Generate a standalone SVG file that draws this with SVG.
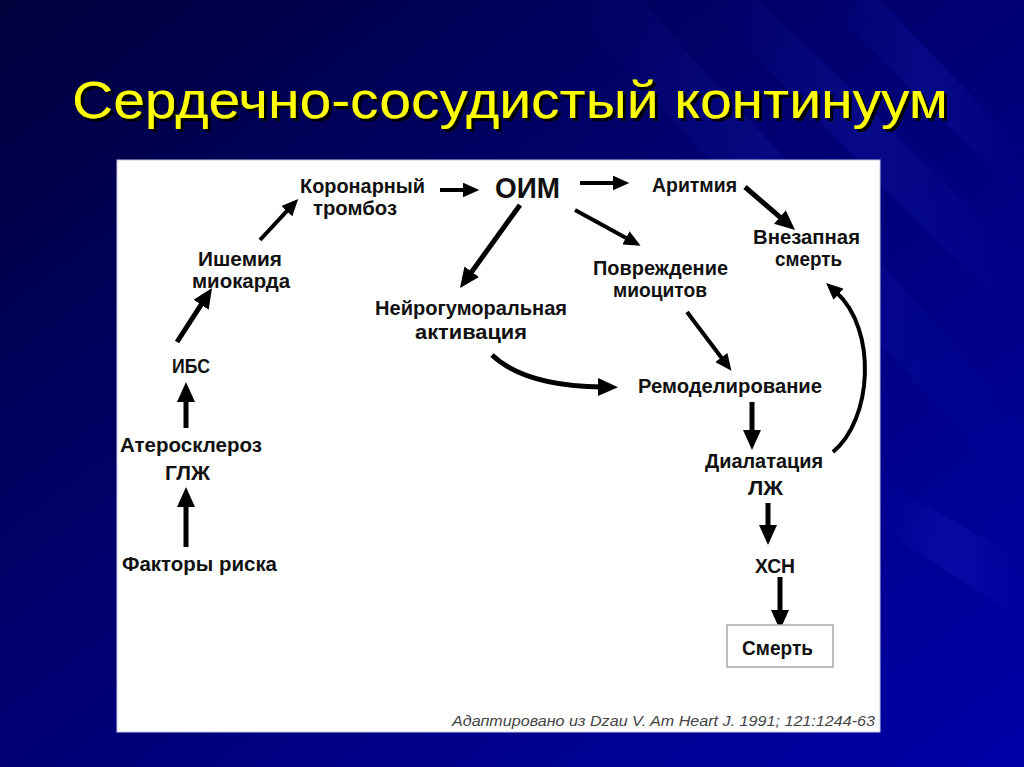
<svg xmlns="http://www.w3.org/2000/svg" width="1024" height="767" viewBox="0 0 1024 767">
<defs>
<linearGradient id="bg" x1="0" y1="0" x2="1" y2="1">
<stop offset="0" stop-color="#00003c"/>
<stop offset="0.45" stop-color="#000070"/>
<stop offset="1" stop-color="#0000a8"/>
</linearGradient>
<linearGradient id="streak" x1="0" y1="0" x2="1" y2="0">
<stop offset="0" stop-color="#3a4cff" stop-opacity="0"/>
<stop offset="0.5" stop-color="#3a4cff" stop-opacity="0.14"/>
<stop offset="1" stop-color="#3a4cff" stop-opacity="0"/>
</linearGradient>
<filter id="shadow" x="-5%" y="-20%" width="110%" height="150%">
<feDropShadow dx="3" dy="3" stdDeviation="0.6" flood-color="#000" flood-opacity="1"/>
</filter>
<marker id="ah" viewBox="0 0 20 18" refX="4" refY="9" markerWidth="20" markerHeight="18" markerUnits="userSpaceOnUse" orient="auto">
<path d="M0,0 L20,9 L0,18 z" fill="#000"/>
</marker>
<marker id="ahs" viewBox="0 0 20 18" refX="4" refY="9" markerWidth="17" markerHeight="15" markerUnits="userSpaceOnUse" orient="auto">
<path d="M0,0 L20,9 L0,18 z" fill="#000"/>
</marker>
</defs>
<style>
.t{font-family:"Liberation Sans Narrow","Liberation Sans",Arial,sans-serif;font-weight:bold;font-size:20px;fill:#111;}
.big{font-size:29px;}
.c{fill:none;stroke:#000;stroke-width:5;marker-end:url(#ah);}
.cs{fill:none;stroke:#000;stroke-width:4;marker-end:url(#ahs);}
</style>
<rect x="0" y="0" width="1024" height="767" fill="url(#bg)"/>
<g opacity="0.9">
<polygon points="560,0 640,0 1024,420 1024,500" fill="url(#streak)"/>
<polygon points="700,0 760,0 1024,260 1024,330" fill="url(#streak)"/>
<polygon points="820,0 880,0 1024,150 1024,200" fill="url(#streak)"/>
<polygon points="880,480 1024,560 1024,620 880,530" fill="url(#streak)"/>
</g>
<g id="title">
<text x="72" y="118" font-family="Liberation Sans, Arial, sans-serif" font-size="52" fill="#ffff00" filter="url(#shadow)" textLength="876" lengthAdjust="spacingAndGlyphs">Сердечно-сосудистый континуум</text>
</g>
<rect id="panel" x="117" y="160" width="763" height="572" fill="#ffffff" stroke="#c8c8e8" stroke-width="1"/>
<g id="connectors">
<line class="c" x1="186" y1="547" x2="186" y2="503"/>
<line class="c" x1="186" y1="428" x2="186" y2="398"/>
<line class="c" x1="177" y1="342" x2="203.3" y2="301.4"/>
<line class="cs" x1="260" y1="240" x2="289.1" y2="208.7"/>
<line class="cs" x1="440" y1="190" x2="466" y2="190"/>
<line class="cs" x1="580" y1="183" x2="616" y2="183"/>
<line class="c" x1="520" y1="205" x2="469.4" y2="275"/>
<line class="cs" x1="575" y1="210" x2="628.9" y2="239.4"/>
<line class="c" x1="745" y1="187" x2="782.9" y2="219.6"/>
<line class="cs" x1="687" y1="312" x2="723.4" y2="360.2"/>
<path class="c" d="M492,355 Q525,386 602,387"/>
<line class="c" x1="752" y1="402" x2="752" y2="434"/>
<line class="c" x1="768" y1="503" x2="768" y2="529"/>
<line class="c" x1="780" y1="577" x2="780" y2="614"/>
<path class="cs" d="M833,452 C872,420 878,330 836,292"/>
</g>
<g id="n-koronarny"><text class="t" x="300" y="193" textLength="125" lengthAdjust="spacingAndGlyphs">Коронарный</text><text class="t" x="313" y="215" textLength="84" lengthAdjust="spacingAndGlyphs">тромбоз</text></g>
<g id="n-oim"><text class="t big" x="495" y="198" textLength="65" lengthAdjust="spacingAndGlyphs">ОИМ</text></g>
<g id="n-aritmia"><text class="t" x="652" y="192" textLength="85" lengthAdjust="spacingAndGlyphs">Аритмия</text></g>
<g id="n-vnezapnaya"><text class="t" x="753" y="244" textLength="107" lengthAdjust="spacingAndGlyphs">Внезапная</text><text class="t" x="775" y="266" textLength="67" lengthAdjust="spacingAndGlyphs">смерть</text></g>
<g id="n-povrezhdenie"><text class="t" x="593" y="275" textLength="135" lengthAdjust="spacingAndGlyphs">Повреждение</text><text class="t" x="613" y="297" textLength="94" lengthAdjust="spacingAndGlyphs">миоцитов</text></g>
<g id="n-ishemia"><text class="t" x="198" y="266" textLength="84" lengthAdjust="spacingAndGlyphs">Ишемия</text><text class="t" x="192" y="288" textLength="98" lengthAdjust="spacingAndGlyphs">миокарда</text></g>
<g id="n-neiro"><text class="t" x="375" y="315" textLength="192" lengthAdjust="spacingAndGlyphs">Нейрогуморальная</text><text class="t" x="415" y="339" textLength="112" lengthAdjust="spacingAndGlyphs">активация</text></g>
<g id="n-ibs"><text class="t" x="172" y="373" textLength="38" lengthAdjust="spacingAndGlyphs">ИБС</text></g>
<g id="n-ateroskleroz"><text class="t" x="120" y="452" textLength="142" lengthAdjust="spacingAndGlyphs">Атеросклероз</text><text class="t" x="165" y="480" textLength="45" lengthAdjust="spacingAndGlyphs">ГЛЖ</text></g>
<g id="n-faktory"><text class="t" x="122" y="571" textLength="155" lengthAdjust="spacingAndGlyphs">Факторы риска</text></g>
<g id="n-remodelirovanie"><text class="t" x="638" y="393" textLength="184" lengthAdjust="spacingAndGlyphs">Ремоделирование</text></g>
<g id="n-dilatacia"><text class="t" x="705" y="468" textLength="118" lengthAdjust="spacingAndGlyphs">Диалатация</text><text class="t" x="748" y="495" textLength="35" lengthAdjust="spacingAndGlyphs">ЛЖ</text></g>
<g id="n-hsn"><text class="t" x="755" y="573" textLength="40" lengthAdjust="spacingAndGlyphs">ХСН</text></g>
<g id="n-smert"><rect x="727" y="625" width="106" height="42" fill="#fff" stroke="#aaa" stroke-width="1.5"/><text class="t" x="742" y="655" textLength="71" lengthAdjust="spacingAndGlyphs">Смерть</text></g>
<g id="source"><text x="452" y="726" font-family="Liberation Sans, Arial, sans-serif" font-style="italic" font-size="14" fill="#444" textLength="423" lengthAdjust="spacingAndGlyphs">Адаптировано из Dzau V. Am Heart J. 1991; 121:1244-63</text></g>
</svg>
